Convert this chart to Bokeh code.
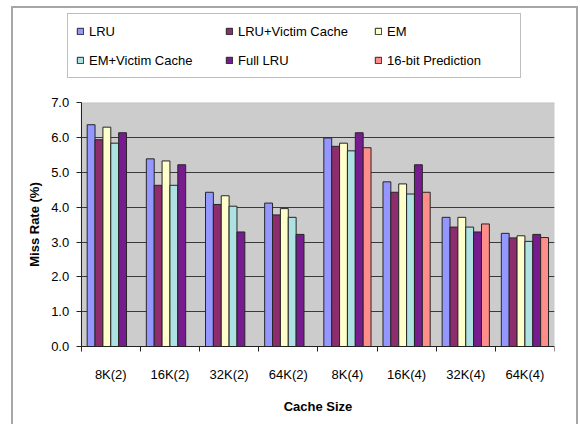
import numpy as np
from bokeh.plotting import figure
from bokeh.models import (Legend, LegendItem, FixedTicker, ColumnDataSource, Range1d,
                          BoxAnnotation)
from bokeh.embed import file_html
from bokeh.resources import INLINE

categories = ["8K(2)", "16K(2)", "32K(2)", "64K(2)", "8K(4)", "16K(4)", "32K(4)", "64K(4)"]
lru        = [6.37, 5.39, 4.43, 4.12, 5.99, 4.73, 3.71, 3.25]
lru_victim = [5.94, 4.63, 4.08, 3.78, 5.75, 4.43, 3.43, 3.12]
em         = [6.30, 5.33, 4.33, 3.96, 5.84, 4.67, 3.71, 3.18]
em_victim  = [5.84, 4.63, 4.03, 3.71, 5.62, 4.38, 3.43, 3.02]
full_lru   = [6.14, 5.22, 3.29, 3.22, 6.14, 5.22, 3.29, 3.22]
pred16     = [None, None, None, None, 5.71, 4.43, 3.52, 3.13]
y_ticks    = [0, 1, 2, 3, 4, 5, 6, 7]

series_names = ["LRU", "LRU+Victim Cache", "EM", "EM+Victim Cache", "Full LRU", "16-bit Prediction"]
series_vals = [lru, lru_victim, em, em_victim, full_lru, pred16]
colors = ["#9497FF", "#8E2D6E", "#FFFFCC", "#AEE2E2", "#761C8E", "#FF8E8A"]

FONT = "Liberation Sans"
n = len(categories)
ymax = y_ticks[-1]

# layout (pixels): the frame covers nearly the whole canvas; the grey plot area spans
# x 80.7..554, y 102.3..346 and the axes are pinned to its edges
W, H = 580, 424
ML, MR, MT, MB = 14, 26, 8, 2
plot_left_px, plot_top_px, plot_bottom_px = 80.7, 102.3, 346.0
ppx = (W - MR - plot_left_px) / n
ppy = (plot_bottom_px - plot_top_px) / ymax
x_start = -(plot_left_px - ML) / ppx
y_start = -((H - MB) - plot_bottom_px) / ppy
y_end = (plot_bottom_px - MT) / ppy

p = figure(width=W, height=H, output_backend="svg", toolbar_location=None,
           x_range=Range1d(x_start, n), y_range=Range1d(y_start, y_end),
           min_border_left=ML, min_border_right=MR, min_border_top=MT, min_border_bottom=MB)

p.background_fill_color = "white"
p.border_fill_color = "white"
p.border_fill_alpha = 0
p.outline_line_color = None

# grey plot area with its light border
plot_area = BoxAnnotation(left=0, right=n, bottom=0, top=ymax,
                          fill_color="#CCCCCC", fill_alpha=1,
                          line_color="#9A9A9A", line_width=1, level="image")
p.add_layout(plot_area)

bw = 0.133
renderers = []
for i, (name, vals, col) in enumerate(zip(series_names, series_vals, colors)):
    xs = [k + 0.5 + (i - 2.5) * bw for k, v in enumerate(vals) if v is not None]
    ys = [v for v in vals if v is not None]
    src = ColumnDataSource(dict(x=xs, top=ys))
    r = p.vbar(x="x", top="top", width=bw, bottom=0, source=src,
               fill_color=col, line_color="#262626", line_width=1)
    renderers.append(r)

# grid (horizontal lines only across the plot area)
p.xgrid.grid_line_color = None
p.ygrid.ticker = FixedTicker(ticks=y_ticks[1:-1])
p.ygrid.grid_line_color = "#3A3A3A"
p.ygrid.grid_line_width = 1
try:
    p.ygrid.cross_bounds = (0, n)
except Exception:
    p.ygrid.grid_line_color = None
    p.segment(x0=[0] * len(y_ticks[1:-1]), x1=[n] * len(y_ticks[1:-1]),
              y0=y_ticks[1:-1], y1=y_ticks[1:-1], line_color="#3A3A3A", line_width=1, level="underlay")

# y axis fixed at the left edge of the plot area
p.yaxis.fixed_location = 0
p.yaxis.bounds = (0, ymax)
p.yaxis.ticker = FixedTicker(ticks=y_ticks)
p.yaxis.major_label_overrides = {k: f"{k:.1f}" for k in y_ticks}
p.yaxis.minor_tick_line_color = None
p.yaxis.major_tick_in = 0
p.yaxis.major_tick_out = 5
p.yaxis.major_label_standoff = 7
p.yaxis.axis_label = "Miss Rate (%)"
p.yaxis.axis_label_standoff = 6
p.yaxis.axis_line_color = "#222222"
p.yaxis.major_tick_line_color = "#222222"

# x axis fixed at value 0: labels at category centres, ticks at category boundaries
centers = [k + 0.5 for k in range(n)]
p.xaxis.fixed_location = 0
p.xaxis.bounds = (0, n)
p.xaxis.ticker = FixedTicker(ticks=centers, minor_ticks=list(range(0, n + 1)))
p.xaxis.major_label_overrides = {c: lab for c, lab in zip(centers, categories)}
p.xaxis.major_tick_line_color = None
p.xaxis.major_tick_out = 5
p.xaxis.major_tick_in = 0
p.xaxis.minor_tick_line_color = "#222222"
p.xaxis.minor_tick_out = 5
p.xaxis.minor_tick_in = 0
p.xaxis.major_label_standoff = 15
p.xaxis.axis_label = "Cache Size"
p.xaxis.axis_label_standoff = 14
p.xaxis.axis_line_color = "#222222"

for ax in (p.xaxis[0], p.yaxis[0]):
    ax.major_label_text_font = FONT
    ax.major_label_text_font_size = "13px"
    ax.major_label_text_color = "black"
    ax.axis_label_text_font = FONT
    ax.axis_label_text_font_size = "13px"
    ax.axis_label_text_font_style = "bold"
    ax.axis_label_text_color = "black"

# legend box: left edge at x=67, bottom edge at y=78 (pixels)
legend = Legend(items=[LegendItem(label=s, renderers=[r]) for s, r in zip(series_names, renderers)],
                location=(67 - ML, (H - MB) - 78), orientation="horizontal", nrows=2)
legend.label_text_font = FONT
legend.label_text_font_size = "13px"
legend.label_text_color = "black"
legend.glyph_width = 8
legend.glyph_height = 8
legend.label_standoff = 5
legend.label_width = 125
legend.label_height = 18
legend.spacing = 11
legend.padding = 8
legend.margin = 0
legend.border_line_color = "#808080"
legend.border_line_width = 1
legend.background_fill_color = "white"
legend.background_fill_alpha = 1
p.add_layout(legend, "center")

# outer chart frame: thin grey lines drawn with inset shadows behind the transparent canvas border
p.styles = {
    "box-shadow": ("inset 11px 0 0 0 white, inset -2px 0 0 0 white, inset 0 6px 0 0 white, "
                   "inset 13px 0 0 0 #A6A6A6, inset -4px 0 0 0 #A6A6A6, inset 0 8px 0 0 #A6A6A6"),
}

open("out.html", "w").write(file_html(p, INLINE))
